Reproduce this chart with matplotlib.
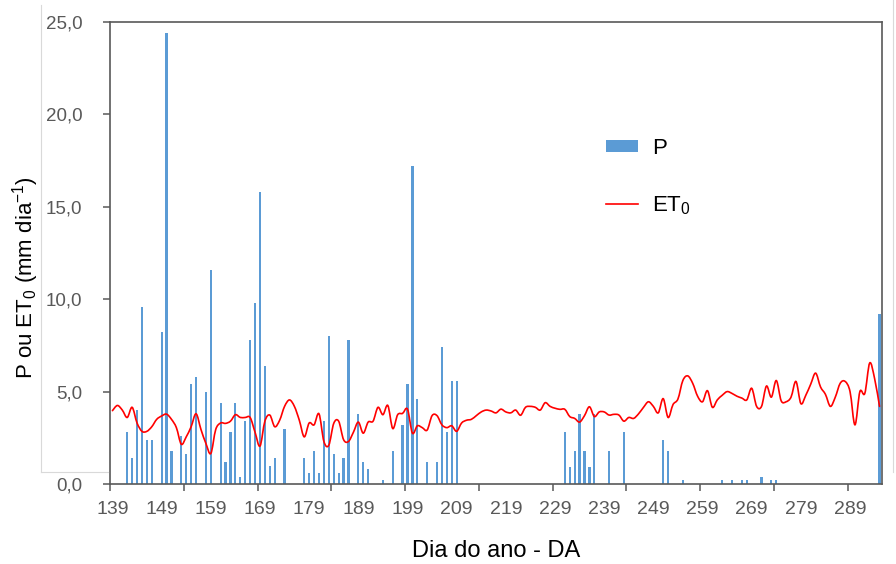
import numpy as np
import matplotlib
matplotlib.use("Agg")
import matplotlib.pyplot as plt
from matplotlib.path import Path
from matplotlib.patches import PathPatch, Patch
from matplotlib.lines import Line2D
from matplotlib.ticker import FixedLocator, FuncFormatter

plt.rcParams['font.family'] = ['Liberation Sans', 'DejaVu Sans']
plt.rcParams['mathtext.fontset'] = 'custom'
plt.rcParams['mathtext.rm'] = 'Liberation Sans'
plt.rcParams['mathtext.it'] = 'Liberation Sans:italic'
plt.rcParams['mathtext.bf'] = 'Liberation Sans:bold'

# ---------------- data ----------------
first_day = 139
last_day = 295
days = list(range(first_day, last_day + 1))

et0 = [
    3.97, 4.25, 4.00, 3.60, 4.15, 3.30, 2.85, 2.85, 3.10, 3.50,   # 139-148
    3.68, 3.78, 3.50, 3.05, 2.15, 2.55, 3.10, 3.80, 2.95, 2.20,   # 149-158
    1.65, 2.95, 3.30, 3.28, 3.40, 3.75, 3.60, 3.60, 3.60, 2.80,   # 159-168
    2.05, 3.40, 3.73, 3.10, 3.45, 4.20, 4.55, 4.20, 3.45, 2.55,   # 169-178
    3.30, 3.20, 3.80, 2.30, 2.10, 3.28, 3.40, 2.40, 2.30, 2.80,   # 179-188
    3.35, 2.75, 3.35, 3.40, 4.15, 3.75, 4.25, 3.00, 3.75, 3.82,   # 189-198
    4.05, 2.75, 3.15, 3.05, 2.92, 3.70, 3.70, 3.20, 3.05, 3.15,   # 199-208
    2.85, 3.30, 3.45, 3.50, 3.70, 3.90, 4.00, 3.95, 3.85, 4.05,   # 209-218
    3.90, 3.85, 4.00, 3.72, 4.15, 4.20, 4.15, 4.00, 4.40, 4.20,   # 219-228
    4.10, 4.04, 4.04, 3.65, 3.55, 3.35, 3.70, 4.18, 3.65, 3.90,   # 229-238
    3.90, 3.73, 3.77, 3.73, 3.40, 3.60, 3.55, 3.80, 4.15, 4.45,   # 239-248
    4.20, 3.85, 4.62, 3.60, 4.30, 4.60, 5.60, 5.85, 5.45, 4.75,   # 249-258
    4.45, 5.05, 4.15, 4.55, 4.80, 5.00, 4.90, 4.75, 4.65, 4.55,   # 259-268
    5.18, 4.20, 4.20, 5.30, 4.70, 5.60, 4.50, 4.45, 4.70, 5.55,   # 269-278
    4.35, 4.80, 5.40, 6.00, 5.25, 4.85, 4.20, 4.70, 5.45, 5.55,   # 279-288
    5.00, 3.20, 5.00, 4.90, 6.55, 5.70, 4.20,                     # 289-295
]

p_days = [142, 143, 144, 145, 146, 147, 149, 150, 151, 153, 154, 155, 156,
          158, 159, 161, 162, 163, 164, 165, 166, 167, 168, 169, 170, 171,
          172, 174, 178, 179, 180, 181, 182, 183, 184, 185, 186, 187, 189,
          190, 191, 194, 196, 198, 199, 200, 201, 203, 205, 206, 207, 208,
          209, 231, 232, 233, 234, 235, 236, 237, 240, 243, 251, 252, 255,
          263, 265, 267, 268, 271, 273, 274, 295]
p_values = [2.8, 1.4, 4.0, 9.6, 2.4, 2.4, 8.2, 24.4, 1.8, 2.6, 1.6, 5.4, 5.8,
            5.0, 11.6, 4.4, 1.2, 2.8, 4.4, 0.4, 3.4, 7.8, 9.8, 15.8, 6.4, 1.0,
            1.4, 3.0, 1.4, 0.6, 1.8, 0.6, 3.4, 8.0, 1.6, 0.6, 1.4, 7.8, 3.8,
            1.2, 0.8, 0.2, 1.8, 3.2, 5.4, 17.2, 4.6, 1.2, 1.2, 7.4, 2.8, 5.6,
            5.6, 2.8, 0.9, 1.8, 3.8, 1.8, 0.9, 3.8, 1.8, 2.8, 2.4, 1.8, 0.2,
            0.2, 0.2, 0.2, 0.2, 0.4, 0.2, 0.2, 9.2]

x_tick_labels = list(range(139, 290, 10))
y_ticks = [0, 5, 10, 15, 20, 25]

# ---------------- figure ----------------
W, H = 896, 564
fig = plt.figure(figsize=(W / 100, H / 100), dpi=100)
ax = fig.add_axes([110 / W, 80 / H, 772 / W, 462 / H])

blue = '#5B9BD5'
red = '#FF0000'
gray = '#595959'

bars = ax.bar(p_days, p_values, width=0.45, color=blue, edgecolor='none', zorder=2)

# Smoothed line (Excel-like Bezier smoothing through the daily values)
pts = np.column_stack([np.array(days, float), np.array(et0, float)])
n = len(pts)
verts = [pts[0]]
codes = [Path.MOVETO]
for i in range(n - 1):
    p0 = pts[i - 1] if i > 0 else pts[i]
    p1 = pts[i]
    p2 = pts[i + 1]
    p3 = pts[i + 2] if i + 2 < n else pts[i + 1]
    c1 = p1 + (p2 - p0) / 6.0
    c2 = p2 - (p3 - p1) / 6.0
    verts += [c1, c2, p2]
    codes += [Path.CURVE4] * 3
path = Path(np.array(verts), codes)
ax.add_patch(PathPatch(path, facecolor='none', edgecolor=red, lw=1.2, zorder=3,
                       capstyle='round', joinstyle='round'))

ax.set_xlim(first_day - 0.5, last_day + 0.5)
ax.set_ylim(0, 25)

# x ticks: labels every 10 days (no marks), marks every 15 categories
ax.xaxis.set_major_locator(FixedLocator(x_tick_labels))
ax.set_xticklabels([str(v) for v in x_tick_labels])
ax.xaxis.set_minor_locator(FixedLocator(list(np.arange(first_day - 0.5, last_day, 15))))
ax.tick_params(axis='x', which='major', length=0, pad=12, labelsize=14, labelcolor=gray)
ax.tick_params(axis='x', which='minor', length=5, width=1.1, color=gray, direction='out')

ax.yaxis.set_major_locator(FixedLocator(y_ticks))
ax.yaxis.set_major_formatter(FuncFormatter(lambda v, pos: f"{v:.1f}".replace('.', ',')))
ax.tick_params(axis='y', which='major', length=5, width=1.1, color=gray, pad=15,
               labelsize=13.5, labelcolor=gray, direction='out')

for s in ax.spines.values():
    s.set_color(gray)
    s.set_linewidth(1.2)

ax.set_ylabel('P ou ET$_0$ (mm dia$^{-1}$)', fontsize=16, color='black')
ax.yaxis.label.set_va('center')
ax.yaxis.label.set_ha('center')
ax.yaxis.set_label_coords((26 - 110) / 772, (484 - 278) / 462)

ax.set_xlabel('Dia do ano - DA', fontsize=17, color='black')
ax.xaxis.label.set_va('center')
ax.xaxis.set_label_coords(0.5, (484 - 551) / 462)

# legend
handles = [Patch(facecolor=blue, edgecolor='none'), Line2D([0], [0], color=red, lw=1.2)]
leg = ax.legend(handles, ['P', 'ET$_0$'], loc='upper left',
                bbox_to_anchor=(588 / W, 1 - 120 / H), bbox_transform=fig.transFigure,
                frameon=False, fontsize=16, labelspacing=1.6, handlelength=1.45,
                handleheight=0.45, handletextpad=0.62, borderpad=0.3)

# faint chart-area border remnants
lc = '#D9D9D9'
fig.add_artist(Line2D([41 / W, 41 / W], [1 - 5 / H, 1 - 472 / H], transform=fig.transFigure, color=lc, lw=0.8))
fig.add_artist(Line2D([41 / W, 108 / W], [1 - 472 / H, 1 - 472 / H], transform=fig.transFigure, color=lc, lw=0.8))
fig.add_artist(Line2D([893 / W, 893 / W], [1.0, 1 - 472 / H], transform=fig.transFigure, color=lc, lw=0.8))

fig.savefig('out.png', dpi=100, facecolor='white')
